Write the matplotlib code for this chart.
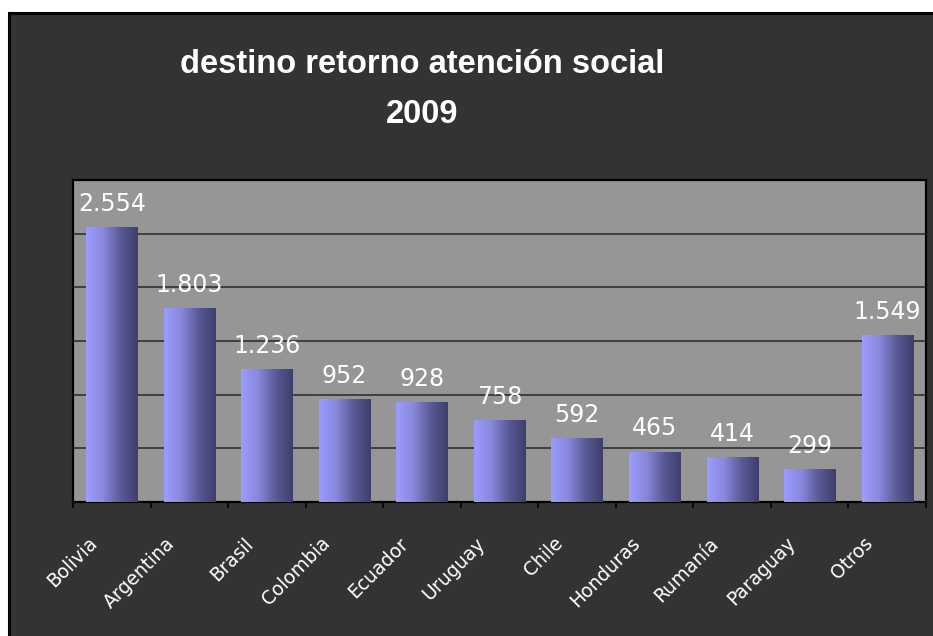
import matplotlib.pyplot as plt
import numpy as np
from matplotlib.colors import LinearSegmentedColormap
from matplotlib.patches import Rectangle
from matplotlib.transforms import ScaledTranslation

# data
countries = ['Bolivia', 'Argentina', 'Brasil', 'Colombia', 'Ecuador', 'Uruguay',
             'Chile', 'Honduras', 'Rumanía', 'Paraguay', 'Otros']
values = [2554, 1803, 1236, 952, 928, 758, 592, 465, 414, 299, 1549]
grid_values = [0, 500, 1000, 1500, 2000, 2500, 3000]

bg = '#333333'
plot_bg = '#969696'
bar_cmap = LinearSegmentedColormap.from_list('bar', ['#9c9cff', '#8888dd', '#5a5a96', '#3e3e6c'])

fig = plt.figure(figsize=(9.33, 6.36), dpi=100)
fig.patch.set_facecolor('white')

# dark chart area with black frame (cropped at right/bottom)
frame = Rectangle((9 / 933, -0.05), 1.1, (636 - 13) / 636 + 0.05, transform=fig.transFigure,
                  facecolor=bg, edgecolor='black', linewidth=2.2, zorder=-10)
fig.patches.append(frame)

ax = fig.add_axes([73 / 933, (636 - 502) / 636, 853 / 933, 322 / 636])
ax.set_facecolor(plot_bg)

x = np.arange(len(countries))
bars = ax.bar(x, values, width=0.66, color='#6a6ab0', zorder=2)

# horizontal gradient on each bar
grad = np.linspace(0, 1, 256).reshape(1, -1)
for b in bars:
    x0, y0 = b.get_x(), b.get_y()
    ax.imshow(grad, cmap=bar_cmap, aspect='auto', zorder=3,
              extent=[x0, x0 + b.get_width(), y0, y0 + b.get_height()])

for xi, v in zip(x, values):
    ax.annotate(f'{v:,}'.replace(',', '.'), (xi, v), xytext=(0, 12), textcoords='offset points',
                ha='center', va='baseline', color='white', fontsize=17, family='DejaVu Sans')

ax.set_xlim(-0.5, len(countries) - 0.5)
ax.set_ylim(grid_values[0], grid_values[-1])
ax.set_yticks(grid_values)
ax.set_yticklabels([])
ax.tick_params(axis='y', length=0)
ax.yaxis.grid(True, color='#303030', linewidth=1.2)
ax.set_axisbelow(True)

ax.set_xticks(x)
ax.set_xticklabels(countries, rotation=45, ha='right', va='center', rotation_mode='anchor',
                   color='white', fontsize=13.5)
ax.tick_params(axis='x', which='major', length=0, pad=0)
ax.set_xticks(np.arange(-0.5, len(countries)), minor=True)
ax.tick_params(axis='x', which='minor', length=4.5, width=1.2, color='black', direction='out')

offset = ScaledTranslation(-0.17, -0.385, fig.dpi_scale_trans)
for label in ax.get_xticklabels():
    label.set_transform(label.get_transform() + offset)

for s in ax.spines.values():
    s.set_color('black')
    s.set_linewidth(1.6)

fig.text(422 / 933, 1 - 73 / 636, 'destino retorno atención social', ha='center', va='baseline',
         color='white', fontsize=23.5, fontweight='bold', family='Liberation Sans')
fig.text(422 / 933, 1 - 123 / 636, '2009', ha='center', va='baseline',
         color='white', fontsize=23.5, fontweight='bold', family='Liberation Sans')

fig.savefig('out.png', dpi=100, facecolor=fig.get_facecolor())
